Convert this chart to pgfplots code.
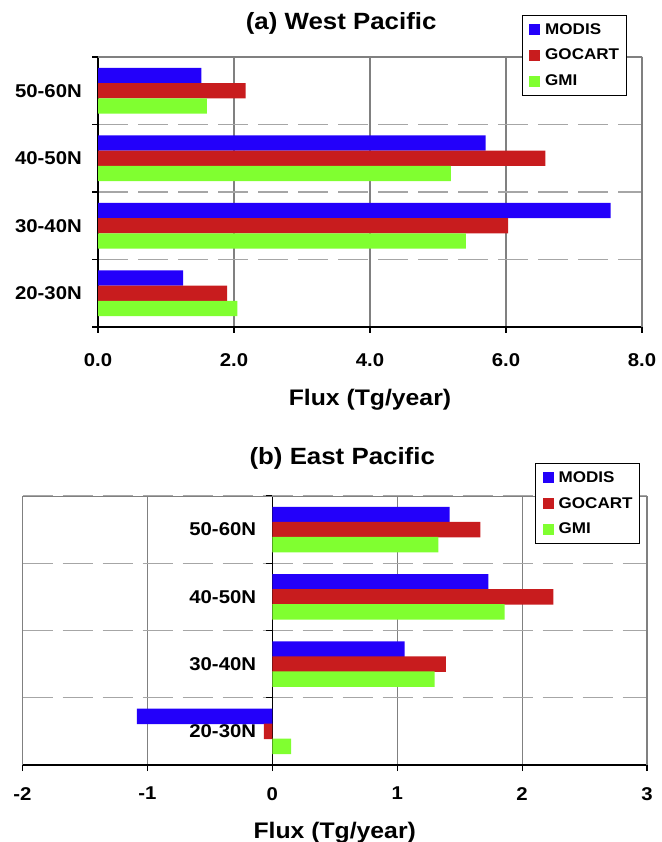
\documentclass[border=0pt]{standalone}
\usepackage{pgfplots}
\pgfplotsset{compat=1.18}
\usepackage{fontspec}
\setmainfont{Liberation Sans}[FakeStretch=1.1]
\definecolor{cmodis}{RGB}{35,0,250}
\definecolor{cgocart}{RGB}{200,28,30}
\definecolor{cgmi}{RGB}{128,255,48}
\newcommand\tickfont{\fontsize{18.5}{20}\selectfont\bfseries}
\newcommand\labfont{\fontsize{22.5}{26}\selectfont\bfseries}
\newcommand\titfont{\fontsize{23.5}{28}\selectfont\bfseries}
\newcommand\legfont{\fontsize{15.5}{18}\selectfont\bfseries}
\pgfplotsset{
  common/.style={
    xbar, scale only axis, bar width=15.3pt,
    ymin=0.5, ymax=4.5,
    ytick={0.5,1.5,2.5,3.5,4.5}, yticklabels={},
    extra y ticks={1,2,3,4},
    extra y tick labels={20-30N,30-40N,40-50N,50-60N},
    extra y tick style={major tick length=0pt, ymajorgrids=false,
      yticklabel style={font=\tickfont, anchor=east, inner sep=0pt, xshift=-16pt}},
    xmajorgrids=true, ymajorgrids=true,
    x grid style={black!50, line width=1.1pt},
    y grid style={black!35, line width=1.2pt, dash pattern=on 30pt off 10pt},
    tick style={black, line width=1.2pt},
    tick align=outside, major tick length=6pt,
    axis line style={-, black, line width=1.3pt},
    ticklabel style={font=\tickfont},
    /pgf/number format/assume math mode=true,
    xlabel={Flux (Tg/year)},
    xlabel style={font=\labfont, at={(axis description cs:0.5,0)}, anchor=north, inner sep=0pt},
    title style={font=\titfont, anchor=base, inner sep=0pt},
    legend cell align=left,
    legend image code/.code={\fill[##1] (0pt,-5.5pt) rectangle (11pt,5.5pt);},
    legend style={draw=black, line width=0.9pt, fill=white, font=\legfont,
      anchor=north west, nodes={inner sep=0pt}, row sep=13.5pt, column sep=5pt,
      inner xsep=7pt, inner ysep=8pt},
  },
}
\begin{document}
\begin{tikzpicture}
\useasboundingbox (0,0) rectangle (661pt,842pt);
% (a) West Pacific
\begin{axis}[common,
  at={(98pt,515pt)}, anchor=south west,
  width=544pt, height=270pt,
  xmin=0, xmax=8, xtick={0,2,4,6,8},
  /pgf/number format/fixed, /pgf/number format/fixed zerofill, /pgf/number format/precision=1,
  xticklabel style={inner sep=0pt, yshift=-20pt},
  axis x line*=bottom, axis y line*=left,
  xlabel style={yshift=-62pt},
  title={(a) West Pacific},
  title style={at={(axis description cs:0.447,1)}, yshift=21pt},
  legend style={at={(axis description cs:0.779,1.156)}},
]
\addplot[fill=cmodis, draw=none, bar shift=15.3pt] coordinates {(1.25,1) (7.54,2) (5.70,3) (1.52,4)};
\addplot[fill=cgocart, draw=none, bar shift=0pt] coordinates {(1.90,1) (6.03,2) (6.58,3) (2.17,4)};
\addplot[fill=cgmi, draw=none, bar shift=-15.3pt] coordinates {(2.05,1) (5.41,2) (5.19,3) (1.60,4)};
\legend{MODIS,GOCART,GMI}
\draw[black!50, line width=1.2pt] (rel axis cs:0,1) -- (rel axis cs:1,1) -- (rel axis cs:1,0);
\end{axis}
% (b) East Pacific
\begin{axis}[common,
  at={(22.5pt,77pt)}, anchor=south west,
  width=624.5pt, height=269pt,
  xmin=-2, xmax=3, xtick={-2,-1,0,1,2,3},
  xticklabel style={inner sep=0pt, yshift=-16pt},
  axis x line*=bottom, axis y line*=middle,
  xlabel style={yshift=-57pt},
  title={(b) East Pacific},
  title style={at={(axis description cs:0.512,1)}, yshift=26pt},
  legend style={at={(axis description cs:0.821,1.123)}},
]
\addplot[fill=cmodis, draw=none, bar shift=15pt] coordinates {(-1.085,1) (1.06,2) (1.73,3) (1.42,4)};
\addplot[fill=cgocart, draw=none, bar shift=0pt] coordinates {(-0.068,1) (1.39,2) (2.25,3) (1.665,4)};
\addplot[fill=cgmi, draw=none, bar shift=-15pt] coordinates {(0.15,1) (1.30,2) (1.86,3) (1.33,4)};
\legend{MODIS,GOCART,GMI}
\draw[black!50, line width=1.2pt] (rel axis cs:0,0) -- (rel axis cs:0,1) -- (rel axis cs:1,1) -- (rel axis cs:1,0);
\end{axis}
\end{tikzpicture}
\end{document}
